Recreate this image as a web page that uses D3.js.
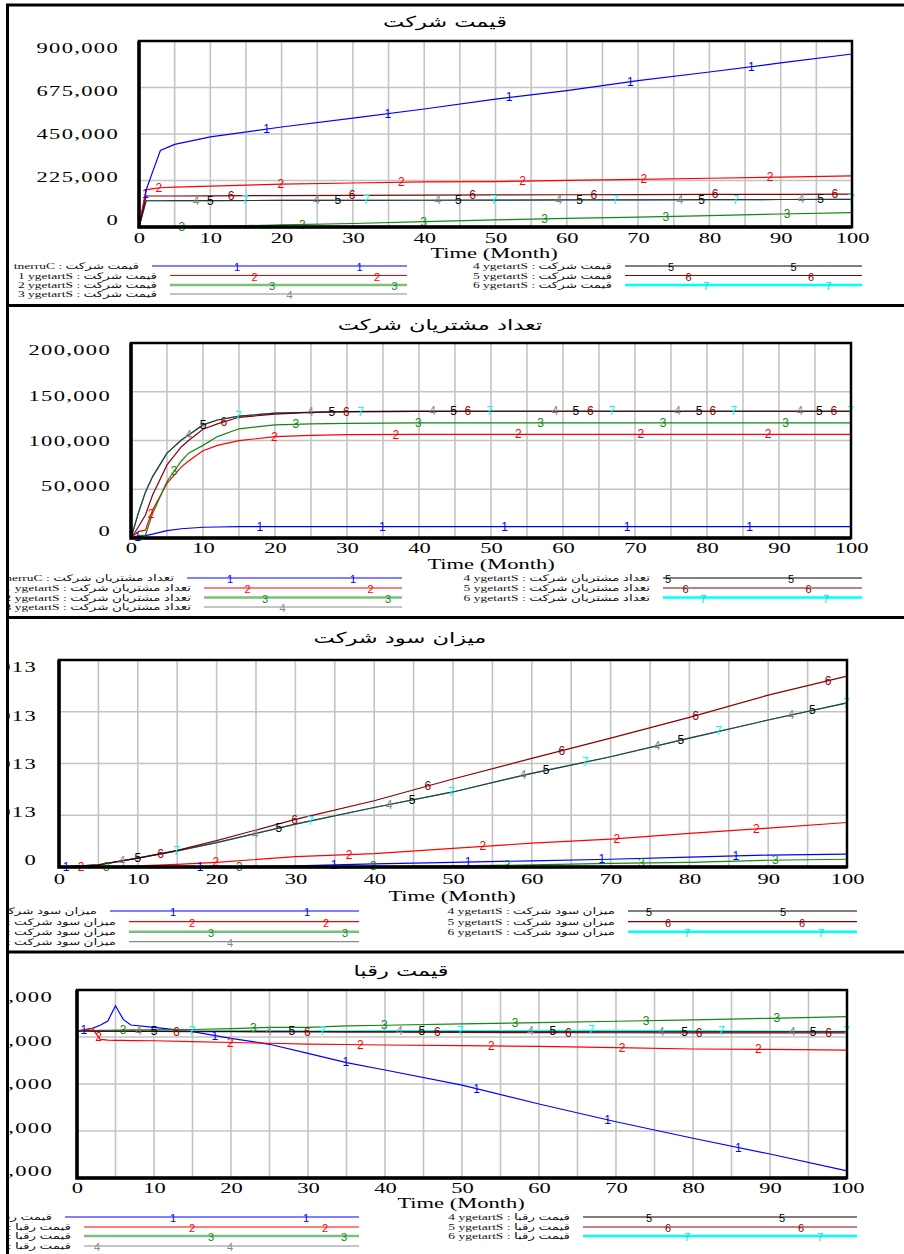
<!DOCTYPE html>
<html>
<head>
<meta charset="utf-8">
<script src="https://cdnjs.cloudflare.com/ajax/libs/d3/7.8.5/d3.min.js"></script>
<style>
body { margin: 0; background: #fff; }
svg { display: block; }
</style>
</head>
<body>
<div id="chart"></div>
<script>
//////// data
var seriesNames = ["tnerruC", "1 ygetartS", "2 ygetartS", "3 ygetartS", "4 ygetartS", "5 ygetartS", "6 ygetartS"];
var seriesMarks = ["1", "2", "3", "4", "5", "6", "7"];
var xTicks = [0, 10, 20, 30, 40, 50, 60, 70, 80, 90, 100];
var xTickLabels = ["0", "10", "20", "30", "40", "50", "60", "70", "80", "90", "100"];

// panel 1 : company price
var priceTime = [0, 1, 2, 3, 5, 10, 20, 30, 40, 50, 60, 70, 80, 90, 100];
var priceCurrent = [0, 179000, 275000, 370000, 400000, 436000, 484000, 527000, 571000, 619000, 660000, 708000, 750000, 794000, 837000];
var priceS1 = [0, 180000, 186000, 190000, 193000, 198000, 207000, 213000, 218000, 220000, 226000, 230000, 236000, 241000, 247000];
var priceS2 = [0, 300, 500, 700, 1000, 3000, 10000, 17000, 26000, 34000, 42000, 48000, 55000, 63000, 70000];
var priceS3 = [0, 127000, 127000, 127000, 127500, 128000, 128500, 129000, 129500, 130000, 131000, 131500, 132000, 133000, 134000];
var priceS4 = [0, 127000, 127000, 127000, 127500, 128000, 128500, 129000, 129500, 130000, 131000, 131500, 132000, 133000, 134000];
var priceS5 = [0, 150000, 150000, 150000, 150000, 151000, 152000, 153000, 154000, 155000, 156000, 157000, 157500, 158000, 159000];
var priceS6 = [0, 127000, 127000, 127000, 127500, 128000, 128500, 129000, 129500, 130000, 131000, 131500, 132000, 133000, 134000];
var priceTicks = [0, 225000, 450000, 675000, 900000];
var priceTickLabels = ["0", "225,000", "450,000", "675,000", "900,000"];

// panel 2 : company customers
var custTime = [0, 1, 2, 3, 5, 7, 8, 10, 12, 15, 20, 25, 30, 40, 50, 60, 70, 80, 90, 100];
var custCurrent = [0, 1400, 2500, 4000, 7500, 9500, 10000, 11000, 11300, 11600, 11700, 11700, 11700, 11700, 11700, 11700, 11700, 11700, 11700, 11700];
var custS1 = [0, 6500, 8000, 28700, 56000, 73000, 79000, 89500, 95000, 99800, 104000, 105300, 106000, 106200, 106300, 106300, 106300, 106300, 106300, 106300];
var custS2 = [0, 2400, 3000, 25000, 58000, 79000, 87000, 95000, 104000, 112000, 116000, 117000, 117600, 118000, 118000, 118000, 118000, 118000, 118000, 118000];
var custS3 = [0, 25000, 47000, 63000, 87000, 100500, 105600, 116000, 121000, 125000, 128000, 129000, 129600, 129800, 130000, 130000, 130000, 130000, 130000, 130000];
var custS4 = [0, 25000, 47000, 63000, 87000, 100500, 105600, 116000, 121000, 125000, 128000, 129000, 129600, 129800, 130000, 130000, 130000, 130000, 130000, 130000];
var custS5 = [0, 11000, 23600, 44000, 75000, 93600, 100000, 111500, 117000, 123800, 127000, 128900, 129600, 129800, 130000, 130000, 130000, 130000, 130000, 130000];
var custS6 = [0, 25000, 47000, 63000, 87000, 100500, 105600, 116000, 121000, 125000, 128000, 129000, 129600, 129800, 130000, 130000, 130000, 130000, 130000, 130000];
var custTicks = [0, 50000, 100000, 150000, 200000];
var custTickLabels = ["0", "50,000", "100,000", "150,000", "200,000"];

// panel 3 : company profit
var profitTime = [0, 5, 10, 15, 20, 30, 40, 50, 60, 70, 80, 90, 100];
var profitCurrent = [0, 0, 0.002e13, 0.005e13, 0.01e13, 0.02e13, 0.06e13, 0.09e13, 0.12e13, 0.15e13, 0.19e13, 0.23e13, 0.25e13];
var profitS1 = [0, 0.005e13, 0.02e13, 0.05e13, 0.09e13, 0.20e13, 0.26e13, 0.36e13, 0.46e13, 0.54e13, 0.65e13, 0.75e13, 0.86e13];
var profitS2 = [0, 0, 0, 0, 0.002e13, 0.005e13, 0.01e13, 0.02e13, 0.04e13, 0.07e13, 0.09e13, 0.13e13, 0.15e13];
var profitS3 = [0, 0.04e13, 0.17e13, 0.31e13, 0.47e13, 0.83e13, 1.15e13, 1.45e13, 1.81e13, 2.13e13, 2.49e13, 2.84e13, 3.17e13];
var profitS4 = [0, 0.04e13, 0.17e13, 0.31e13, 0.47e13, 0.83e13, 1.15e13, 1.45e13, 1.81e13, 2.13e13, 2.49e13, 2.84e13, 3.17e13];
var profitS5 = [0, 0.04e13, 0.17e13, 0.32e13, 0.51e13, 0.92e13, 1.28e13, 1.70e13, 2.10e13, 2.49e13, 2.89e13, 3.32e13, 3.69e13];
var profitS6 = [0, 0.04e13, 0.17e13, 0.31e13, 0.47e13, 0.83e13, 1.15e13, 1.45e13, 1.81e13, 2.13e13, 2.49e13, 2.84e13, 3.17e13];
var profitTicks = [0, 1e13, 2e13, 3e13, 4e13];
var profitTickLabels = ["0", "1e+013", "2e+013", "3e+013", "4e+013"];

// panel 4 : rivals price
var rivalTime = [0, 2, 3, 4, 5, 6, 7, 10, 15, 20, 25, 30, 35, 40, 50, 60, 70, 80, 90, 100];
var rivalCurrent = [10255, 10370, 10500, 10680, 11330, 10750, 10510, 10410, 10225, 9945, 9690, 9305, 8910, 8595, 7955, 7150, 6395, 5690, 5020, 4300];
var rivalS1 = [10255, 10370, 9900, 9870, 9860, 9855, 9850, 9840, 9800, 9765, 9735, 9700, 9680, 9660, 9630, 9605, 9545, 9490, 9475, 9445];
var rivalS2 = [10255, 10270, 10280, 10285, 10290, 10295, 10300, 10300, 10320, 10355, 10410, 10410, 10470, 10500, 10555, 10610, 10670, 10725, 10795, 10865];
var rivalS3 = [10255, 10255, 10250, 10250, 10250, 10250, 10250, 10250, 10245, 10240, 10240, 10235, 10235, 10235, 10235, 10235, 10230, 10230, 10230, 10230];
var rivalS4 = [10255, 10255, 10250, 10250, 10250, 10250, 10250, 10250, 10245, 10240, 10240, 10235, 10235, 10235, 10235, 10235, 10230, 10230, 10230, 10230];
var rivalS5 = [10255, 10250, 10250, 10245, 10245, 10245, 10240, 10235, 10230, 10225, 10220, 10215, 10210, 10205, 10195, 10185, 10180, 10175, 10175, 10175];
var rivalS6 = [10255, 10255, 10255, 10255, 10255, 10255, 10255, 10255, 10255, 10260, 10260, 10265, 10265, 10270, 10270, 10280, 10280, 10270, 10255, 10245];
var rivalTicks = [4000, 6000, 8000, 10000, 12000];
var rivalTickLabels = ["4,000", "6,000", "8,000", "10,000", "12,000"];

// where the number labels sit along each line (time units)
var markerTimes = [
    [0.9, 17.9, 34.9, 51.9, 68.9, 85.9],
    [2.8, 19.9, 36.8, 53.8, 70.8, 88.5],
    [6, 22.9, 39.9, 56.9, 73.9, 90.9],
    [8, 24.9, 41.9, 58.9, 75.9, 92.9],
    [10, 27.9, 44.8, 61.8, 78.9, 95.6],
    [12.9, 29.9, 46.8, 63.8, 80.8, 97.6],
    [14.9, 31.9, 49.8, 66.8, 83.7, 99.9]
];

//////// styles
var colors = ["#0000ff", "#ff0000", "#108a10", "#8a8a8a", "#000000", "#8b0000", "#00ffff"];
var serif = "'Liberation Serif', 'DejaVu Sans', serif";
var sans = "'Liberation Sans', Arial, sans-serif";
var arabic = "'DejaVu Sans', sans-serif";
var stretch = 1.5;
var drawOrder = [0, 1, 2, 6, 3, 5, 4];

//////// panel layout
var panels = [
    {
        title: "قیمت شرکت", varName: "قیمت شرکت",
        time: priceTime, values: [priceCurrent, priceS1, priceS2, priceS3, priceS4, priceS5, priceS6],
        ticks: priceTicks, tickLabels: priceTickLabels, domain: [0, 900000],
        l: 139, t: 41, r: 852, b: 227, yLabelX: 119, xTickY: 232, axisTitle: [494, 253], titlePos: [445, 22],
        rows: [266, 275.5, 285, 294], leftStart: [152, 170, 170, 170], leftEnd: 407, rightStart: 625, rightEnd: 862,
        mk1: 237, mk5: 671, dk: 17.5, sp: 122.5
    },
    {
        title: "تعداد مشتریان شرکت", varName: "تعداد مشتریان شرکت",
        time: custTime, values: [custCurrent, custS1, custS2, custS3, custS4, custS5, custS6],
        ticks: custTicks, tickLabels: custTickLabels, domain: [0, 200000],
        l: 131, t: 343, r: 851, b: 538, yLabelX: 111, xTickY: 542, axisTitle: [491, 564], titlePos: [440, 325],
        rows: [578, 588, 597.5, 607], leftStart: [187, 204, 204, 204], leftEnd: 402, rightStart: 663, rightEnd: 862,
        mk1: 230, mk5: 668, dk: 17.5, sp: 123
    },
    {
        title: "میزان سود شرکت", varName: "میزان سود شرکت",
        time: profitTime, values: [profitCurrent, profitS1, profitS2, profitS3, profitS4, profitS5, profitS6],
        ticks: profitTicks, tickLabels: profitTickLabels, domain: [0, 4e13],
        l: 59, t: 660, r: 847, b: 867, yLabelX: 37, xTickY: 873, axisTitle: [452, 896], titlePos: [400, 638],
        rows: [911, 921.7, 931.7, 941.7], leftStart: [110, 129, 129, 129], leftEnd: 359, rightStart: 628, rightEnd: 857,
        mk1: 173, mk5: 649, dk: 19, sp: 134
    },
    {
        title: "قیمت رقبا", varName: "قیمت رقبا",
        time: rivalTime, values: [rivalCurrent, rivalS1, rivalS2, rivalS3, rivalS4, rivalS5, rivalS6],
        ticks: rivalTicks, tickLabels: rivalTickLabels, domain: [4000, 12000],
        l: 77, t: 990, r: 847, b: 1178, yLabelX: 53, xTickY: 1182, axisTitle: [461, 1203], titlePos: [401, 971],
        rows: [1217, 1227, 1236, 1246], leftStart: [65, 84, 84, 84], leftEnd: 359, rightStart: 583, rightEnd: 857,
        mk1: 173, mk5: 649, dk: 19, sp: 133
    }
];

// create canvas
var svg = d3.select("#chart")
    .append("svg")
    .attr("width", 904)
    .attr("height", 1254);

svg.append("defs")
    .append("clipPath")
    .attr("id", "frame-clip")
    .append("rect")
    .attr("x", 8.5).attr("y", 0)
    .attr("width", 900).attr("height", 1254);

var root = svg.append("g").attr("clip-path", "url(#frame-clip)");

// stretched text helper (the source renders its fonts wide)
function wideText(g, x, y, str, size, anchor, family, color) {
    return g.append("text")
        .attr("transform", "translate(" + x + "," + y + ") scale(" + stretch + ",1)")
        .attr("text-anchor", anchor)
        .attr("dominant-baseline", "central")
        .style("font-family", family)
        .style("font-size", size + "px")
        .style("fill", color || "#000")
        .text(str);
}

panels.forEach(function(p) {
    var g = root.append("g");

    var x = d3.scaleLinear().domain([0, 100]).range([p.l, p.r]);
    var y = d3.scaleLinear().domain(p.domain).range([p.b, p.t]);
    // tick labels sit slightly inside the top and bottom gridlines
    var yLab = d3.scaleLinear().domain(p.domain).range([p.b - 7, p.t + 7]);

    //////// title
    wideText(g, p.titlePos[0], p.titlePos[1], p.title, 15, "middle", arabic);

    //////// grid
    g.selectAll(".vgrid")
        .data(d3.range(5, 100, 5))
        .enter().append("line")
        .attr("x1", function(d) { return x(d); })
        .attr("x2", function(d) { return x(d); })
        .attr("y1", p.t).attr("y2", p.b)
        .attr("stroke", "#c4c4c4")
        .attr("stroke-width", 1.6);

    g.selectAll(".hgrid")
        .data(p.ticks.slice(1, -1))
        .enter().append("line")
        .attr("x1", p.l).attr("x2", p.r)
        .attr("y1", function(d) { return y(d); })
        .attr("y2", function(d) { return y(d); })
        .attr("stroke", "#c4c4c4")
        .attr("stroke-width", 1.6);

    //////// axes labels
    var yAxis = g.append("g")
        .attr("transform", "translate(" + p.yLabelX + ",0)")
        .call(d3.axisLeft(yLab)
            .tickValues(p.ticks)
            .tickFormat(function(d, i) { return p.tickLabels[i]; })
            .tickSize(0).tickPadding(0));
    yAxis.select(".domain").remove();
    yAxis.selectAll("text")
        .attr("transform", "scale(" + stretch + ",1)")
        .style("font-family", serif)
        .style("font-size", "15px")
        .style("letter-spacing", "0.9px")
        .style("fill", "#000");

    var xAxis = g.append("g")
        .attr("transform", "translate(0," + p.xTickY + ")")
        .call(d3.axisBottom(x)
            .tickValues(xTicks)
            .tickFormat(function(d, i) { return xTickLabels[i]; })
            .tickSize(0).tickPadding(0));
    xAxis.select(".domain").remove();
    xAxis.selectAll("text")
        .attr("transform", "scale(" + stretch + ",1)")
        .style("font-family", serif)
        .style("font-size", "15px")
        .style("fill", "#000");

    wideText(g, p.axisTitle[0], p.axisTitle[1], "Time (Month)", 15, "middle", serif);

    //////// series lines
    var line = d3.line()
        .x(function(d) { return x(d[0]); })
        .y(function(d) { return y(d[1]); });

    drawOrder.forEach(function(k) {
        var pts = p.time.map(function(t, i) { return [t, p.values[k][i]]; });
        g.append("path")
            .attr("d", line(pts))
            .attr("fill", "none")
            .attr("stroke", colors[k])
            .attr("stroke-width", 1.2)
            .attr("stroke-opacity", k === 4 ? 0.6 : 1);
    });

    // number labels along lines
    p.values.forEach(function(vals, k) {
        var along = d3.scaleLinear().domain(p.time).range(vals);
        markerTimes[k].forEach(function(t) {
            g.append("text")
                .attr("x", x(t))
                .attr("y", y(along(t)))
                .attr("text-anchor", "middle")
                .attr("dominant-baseline", "central")
                .style("font-family", sans)
                .style("font-size", "12px")
                .style("fill", colors[k])
                .text(seriesMarks[k]);
        });
    });

    //////// plot frame
    g.append("rect")
        .attr("x", p.l).attr("y", p.t)
        .attr("width", p.r - p.l).attr("height", p.b - p.t)
        .attr("fill", "none")
        .attr("stroke", "#000")
        .attr("stroke-width", 2.5);
    g.append("path")
        .attr("d", "M " + p.l + " " + p.t + " L " + p.l + " " + p.b + " L " + p.r + " " + p.b)
        .attr("fill", "none")
        .attr("stroke", "#000")
        .attr("stroke-width", 3.5);

    //////// legend
    p.values.forEach(function(vals, k) {
        var left = k < 4;
        var row = left ? p.rows[k] : p.rows[k - 4];
        var x0 = left ? p.leftStart[k] : p.rightStart;
        var x1 = left ? p.leftEnd : p.rightEnd;
        var wide = (k === 2 || k === 6);

        wideText(g, x0 - 13, row, seriesNames[k] + " : " + p.varName, 9, "end", serif, "#111");

        g.append("line")
            .attr("x1", x0).attr("x2", x1)
            .attr("y1", row).attr("y2", row)
            .attr("stroke", colors[k])
            .attr("stroke-width", wide ? 2.4 : 1.2)
            .attr("stroke-opacity", k === 2 ? 0.55 : 1);

        var base = left ? p.mk1 + k * p.dk : p.mk5 + (k - 4) * p.dk;
        d3.range(-3, 4).forEach(function(j) {
            var mx = base + j * p.sp;
            if (mx < x0 + 4 || mx > x1 - 4) return;
            g.append("text")
                .attr("x", mx).attr("y", row + 1)
                .attr("text-anchor", "middle")
                .attr("dominant-baseline", "central")
                .style("font-family", sans)
                .style("font-size", "11px")
                .style("fill", colors[k] === "#00ffff" ? "#00e0e0" : colors[k])
                .text(seriesMarks[k]);
        });
    });
});

//////// panel borders
var borders = [5, 305.5, 617.5, 952];
svg.selectAll(".sep")
    .data(borders)
    .enter().append("line")
    .attr("x1", 6).attr("x2", 904)
    .attr("y1", function(d) { return d; })
    .attr("y2", function(d) { return d; })
    .attr("stroke", "#000")
    .attr("stroke-width", 3);

svg.append("line")
    .attr("x1", 7.5).attr("x2", 7.5)
    .attr("y1", 4).attr("y2", 1254)
    .attr("stroke", "#000")
    .attr("stroke-width", 3);
</script>
</body>
</html>
